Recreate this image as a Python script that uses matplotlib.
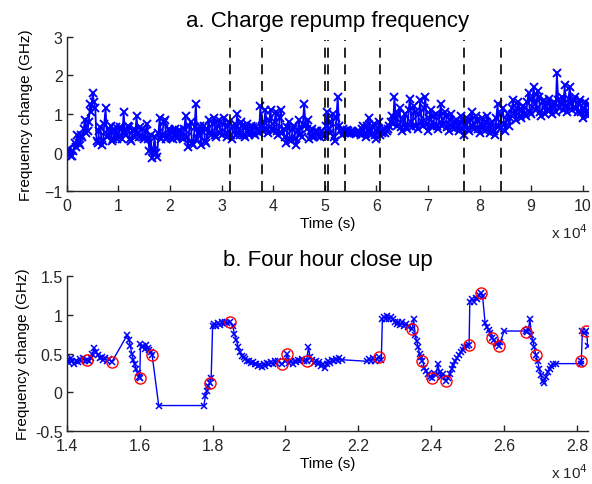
import matplotlib.pyplot as plt

plt.rcParams['font.family'] = ['Liberation Sans', 'DejaVu Sans']

# ---- panel a: whole run (time in units of 1e4 s, frequency change in GHz)
top_time = [
    0.00, 0.05, 0.10, 0.15, 0.20, 0.25, 0.30, 0.35, 0.40, 0.45,
    0.50, 0.55, 0.60, 0.65, 0.70, 0.75, 0.80, 0.85, 0.90, 0.95,
    1.00, 1.05, 1.10, 1.15, 1.20, 1.25, 1.30, 1.35, 1.40, 1.45,
    1.50, 1.55, 1.60, 1.65, 1.70, 1.75, 1.80, 1.85, 1.90, 1.95,
    2.00, 2.05, 2.10, 2.15, 2.20, 2.25, 2.30, 2.35, 2.40, 2.45,
    2.50, 2.55, 2.60, 2.65, 2.70, 2.75, 2.80, 2.85, 2.90, 2.95,
    3.00, 3.05, 3.10, 3.15, 3.20, 3.25, 3.30, 3.35, 3.40, 3.45,
    3.50, 3.55, 3.60, 3.65, 3.70, 3.75, 3.80, 3.85, 3.90, 3.95,
    4.00, 4.05, 4.10, 4.15, 4.20, 4.25, 4.30, 4.35, 4.40, 4.45,
    4.50, 4.55, 4.60, 4.65, 4.70, 4.75, 4.80, 4.85, 4.90, 4.95,
    5.00, 5.05, 5.10, 5.15, 5.20, 5.25, 5.30, 5.35, 5.40, 5.45,
    5.50, 5.55, 5.60, 5.65, 5.70, 5.75, 5.80, 5.85, 5.90, 5.95,
    6.00, 6.05, 6.10, 6.15, 6.20, 6.25, 6.30, 6.35, 6.40, 6.45,
    6.50, 6.55, 6.60, 6.65, 6.70, 6.75, 6.80, 6.85, 6.90, 6.95,
    7.00, 7.05, 7.10, 7.15, 7.20, 7.25, 7.30, 7.35, 7.40, 7.45,
    7.50, 7.55, 7.60, 7.65, 7.70, 7.75, 7.80, 7.85, 7.90, 7.95,
    8.00, 8.05, 8.10, 8.15, 8.20, 8.25, 8.30, 8.35, 8.40, 8.45,
    8.50, 8.55, 8.60, 8.65, 8.70, 8.75, 8.80, 8.85, 8.90, 8.95,
    9.00, 9.05, 9.10, 9.15, 9.20, 9.25, 9.30, 9.35, 9.40, 9.45,
    9.50, 9.55, 9.60, 9.65, 9.70, 9.75, 9.80, 9.85, 9.90, 9.95,
    10.00, 10.05, 10.10, 10.15,
]
top_freq = [
    -0.05, 0.08, -0.08, 0.25, 0.45, 0.20, 0.40, 0.85, 0.55, 1.25,
    1.55, 1.15, 0.25, 0.65, 0.30, 1.15, 0.45, 0.70, 0.35, 0.65,
    0.40, 0.60, 1.05, 0.45, 0.65, 0.30, 0.60, 0.95, 0.40, 0.60,
    0.35, 0.75, 0.05, -0.15, 0.40, -0.12, 0.90, 0.45, 0.85, 0.40,
    0.55, 0.35, 0.60, 0.40, 0.55, 0.35, 0.95, 0.15, 0.80, 0.20,
    1.25, 0.50, 0.20, 0.70, 0.25, 0.85, 0.45, 0.90, 0.40, 0.85,
    0.45, 0.90, 0.40, 0.80, 0.35, 0.75, 1.00, 0.45, 0.70, 0.40,
    0.75, 0.50, 0.65, 0.45, 0.60, 1.20, 0.55, 1.10, 0.50, 1.10,
    0.55, 1.05, 0.45, 1.10, 0.60, 0.25, 0.80, 0.30, 0.70, 0.20,
    0.85, 0.40, 1.25, 0.60, 0.35, 0.60, 0.40, 0.55, 0.40, 0.55,
    0.45, 1.05, 0.50, 1.00, 0.30, 1.45, 0.55, 0.60, 0.50, 0.55,
    0.50, 0.52, 0.48, 0.55, 0.45, 0.70, 0.40, 0.90, 0.45, 0.75,
    0.35, 0.80, 0.50, 0.60, 0.55, 0.70, 0.95, 1.45, 0.70, 1.15,
    0.55, 1.00, 0.60, 1.40, 0.65, 1.05, 0.60, 1.35, 0.70, 1.45,
    0.55, 1.10, 0.65, 1.00, 0.60, 1.25, 0.75, 0.95, 0.55, 1.00,
    0.60, 0.85, 0.55, 0.95, 0.45, 0.90, 0.55, 1.05, 0.60, 0.85,
    0.50, 0.90, 0.55, 0.95, 0.50, 0.80, 0.45, 1.25, 0.60, 1.15,
    0.55, 1.00, 0.90, 1.35, 0.85, 1.30, 0.90, 1.20, 0.95, 1.55,
    1.00, 1.70, 1.10, 1.45, 0.95, 1.35, 1.10, 1.40, 1.00, 1.30,
    2.05, 1.15, 1.45, 1.75, 1.05, 1.70, 1.10, 1.45, 1.05, 1.35,
    0.90, 1.30, 0.95, 1.15,
]
# samples logged between the ones above
mid_time = [
    0.025, 0.075, 0.125, 0.175, 0.225, 0.275, 0.325, 0.375, 0.425, 0.475,
    0.525, 0.575, 0.625, 0.675, 0.725, 0.775, 0.825, 0.875, 0.925, 0.975,
    1.025, 1.075, 1.125, 1.175, 1.225, 1.275, 1.325, 1.375, 1.425, 1.475,
    1.525, 1.575, 1.625, 1.675, 1.725, 1.775, 1.825, 1.875, 1.925, 1.975,
    2.025, 2.075, 2.125, 2.175, 2.225, 2.275, 2.325, 2.375, 2.425, 2.475,
    2.525, 2.575, 2.625, 2.675, 2.725, 2.775, 2.825, 2.875, 2.925, 2.975,
    3.025, 3.075, 3.125, 3.175, 3.225, 3.275, 3.325, 3.375, 3.425, 3.475,
    3.525, 3.575, 3.625, 3.675, 3.725, 3.775, 3.825, 3.875, 3.925, 3.975,
    4.025, 4.075, 4.125, 4.175, 4.225, 4.275, 4.325, 4.375, 4.425, 4.475,
    4.525, 4.575, 4.625, 4.675, 4.725, 4.775, 4.825, 4.875, 4.925, 4.975,
    5.025, 5.075, 5.125, 5.175, 5.225, 5.275, 5.325, 5.375, 5.425, 5.475,
    5.525, 5.575, 5.625, 5.675, 5.725, 5.775, 5.825, 5.875, 5.925, 5.975,
    6.025, 6.075, 6.125, 6.175, 6.225, 6.275, 6.325, 6.375, 6.425, 6.475,
    6.525, 6.575, 6.625, 6.675, 6.725, 6.775, 6.825, 6.875, 6.925, 6.975,
    7.025, 7.075, 7.125, 7.175, 7.225, 7.275, 7.325, 7.375, 7.425, 7.475,
    7.525, 7.575, 7.625, 7.675, 7.725, 7.775, 7.825, 7.875, 7.925, 7.975,
    8.025, 8.075, 8.125, 8.175, 8.225, 8.275, 8.325, 8.375, 8.425, 8.475,
    8.525, 8.575, 8.625, 8.675, 8.725, 8.775, 8.825, 8.875, 8.925, 8.975,
    9.025, 9.075, 9.125, 9.175, 9.225, 9.275, 9.325, 9.375, 9.425, 9.475,
    9.525, 9.575, 9.625, 9.675, 9.725, 9.775, 9.825, 9.875, 9.925, 9.975,
    10.025, 10.075, 10.125, 10.175,
]
mid_freq = [
    0.10, -0.10, 0.05, 0.15, 0.25, 0.45, 0.60, 0.50, 0.80, 1.05,
    1.30, 0.30, 0.55, 0.20, 0.75, 0.40, 0.60, 0.30, 0.55, 0.35,
    0.65, 0.35, 0.50, 0.70, 0.35, 0.55, 0.40, 0.50, 0.65, 0.40,
    0.55, 0.35, 0.45, 0.05, 0.00, 0.50, 0.35, 0.80, 0.35, 0.60,
    0.38, 0.55, 0.38, 0.58, 0.40, 0.60, 0.40, 0.70, 0.25, 0.65,
    0.35, 0.70, 0.55, 0.30, 0.60, 0.50, 0.75, 0.45, 0.70, 0.50,
    0.75, 0.50, 0.70, 0.45, 0.65, 0.45, 0.50, 0.80, 0.45, 0.65,
    0.45, 0.70, 0.50, 0.65, 0.50, 0.70, 0.80, 0.60, 0.85, 0.60,
    0.80, 0.55, 0.90, 0.50, 0.40, 0.65, 0.35, 0.60, 0.35, 0.55,
    0.45, 0.75, 0.70, 0.85, 0.55, 0.40, 0.55, 0.42, 0.52, 0.42,
    0.70, 0.60, 0.80, 0.40, 0.90, 0.70, 0.45, 0.55, 0.58, 0.50,
    0.55, 0.50, 0.52, 0.50, 0.60, 0.50, 0.70, 0.55, 0.65, 0.45,
    0.60, 0.45, 0.55, 0.50, 0.60, 0.80, 0.75, 0.90, 1.00, 0.65,
    0.85, 0.65, 1.10, 0.80, 1.20, 0.70, 1.00, 0.80, 1.15, 0.75,
    0.90, 0.70, 0.95, 0.70, 0.95, 0.70, 1.05, 0.65, 0.85, 0.65,
    0.80, 0.65, 0.80, 0.60, 0.75, 0.60, 0.85, 0.70, 0.95, 0.60,
    0.75, 0.65, 0.80, 0.60, 0.75, 0.55, 0.90, 0.70, 1.00, 0.75,
    0.85, 0.70, 1.15, 1.00, 1.15, 0.95, 1.10, 1.00, 1.30, 1.05,
    1.40, 1.25, 1.60, 1.05, 1.30, 1.00, 1.25, 1.10, 1.20, 1.05,
    1.35, 1.30, 1.10, 1.20, 1.40, 1.25, 1.35, 1.15, 1.25, 1.05,
    1.15, 1.00, 1.25, 1.05,
]
# times of the dashed markers (1e4 s)
event_times = [3.16, 3.79, 5.00, 5.06, 5.40, 6.07, 7.70, 8.42]

# ---- panel b: four hour close up
zoom_time = [
    1.400, 1.405, 1.410, 1.415, 1.420, 1.425, 1.430, 1.435, 1.440, 1.445,
    1.450, 1.456, 1.460, 1.465, 1.470, 1.475, 1.480, 1.485, 1.490, 1.495,
    1.500, 1.505, 1.510, 1.515, 1.523, 1.566, 1.570, 1.574, 1.578, 1.582,
    1.586, 1.590, 1.594, 1.598, 1.600, 1.602, 1.606, 1.610, 1.614, 1.618,
    1.622, 1.626, 1.630, 1.634, 1.652, 1.776, 1.780, 1.784, 1.788, 1.792,
    1.796, 1.800, 1.805, 1.810, 1.815, 1.820, 1.825, 1.830, 1.835, 1.840,
    1.848, 1.855, 1.860, 1.865, 1.870, 1.875, 1.880, 1.885, 1.890, 1.895,
    1.900, 1.905, 1.910, 1.915, 1.920, 1.925, 1.930, 1.935, 1.940, 1.945,
    1.950, 1.955, 1.960, 1.965, 1.970, 1.975, 1.980, 1.990, 1.998, 2.005,
    2.010, 2.015, 2.020, 2.025, 2.030, 2.035, 2.040, 2.045, 2.050, 2.058,
    2.063, 2.068, 2.073, 2.078, 2.083, 2.088, 2.093, 2.098, 2.103, 2.108,
    2.113, 2.118, 2.123, 2.128, 2.133, 2.138, 2.143, 2.148, 2.155, 2.224,
    2.230, 2.235, 2.240, 2.245, 2.250, 2.258, 2.263, 2.266, 2.270, 2.275,
    2.280, 2.285, 2.290, 2.295, 2.300, 2.305, 2.310, 2.315, 2.320, 2.325,
    2.330, 2.335, 2.340, 2.347, 2.352, 2.356, 2.360, 2.364, 2.368, 2.372,
    2.376, 2.381, 2.386, 2.391, 2.396, 2.402, 2.408, 2.413, 2.418, 2.423,
    2.428, 2.433, 2.440, 2.446, 2.451, 2.456, 2.461, 2.466, 2.471, 2.476,
    2.481, 2.486, 2.491, 2.497, 2.504, 2.506, 2.512, 2.517, 2.522, 2.527,
    2.531, 2.536, 2.541, 2.548, 2.553, 2.558, 2.562, 2.567, 2.572, 2.577,
    2.581, 2.585, 2.590, 2.600, 2.660, 2.663, 2.667, 2.671, 2.675, 2.679,
    2.683, 2.687, 2.692, 2.697, 2.701, 2.706, 2.710, 2.715, 2.720, 2.725,
    2.730, 2.735, 2.742, 2.810, 2.812, 2.815, 2.820, 2.826, 2.830,
]
zoom_freq = [
    0.42, 0.38, 0.44, 0.40, 0.37, 0.40, 0.39, 0.43, 0.40, 0.44,
    0.41, 0.42, 0.40, 0.44, 0.50, 0.57, 0.52, 0.48, 0.44, 0.46,
    0.42, 0.44, 0.40, 0.43, 0.39, 0.74, 0.68, 0.60, 0.50, 0.42,
    0.36, 0.30, 0.25, 0.20, 0.18, 0.62, 0.58, 0.60, 0.56, 0.61,
    0.57, 0.55, 0.52, 0.48, -0.17, -0.17, -0.05, 0.02, 0.08, 0.12,
    0.18, 0.86, 0.88, 0.86, 0.89, 0.87, 0.90, 0.88, 0.91, 0.89,
    0.91, 0.86, 0.75, 0.68, 0.58, 0.52, 0.47, 0.45, 0.43, 0.41,
    0.40, 0.38, 0.39, 0.36, 0.37, 0.34, 0.35, 0.33, 0.36, 0.34,
    0.38, 0.36, 0.39, 0.37, 0.40, 0.38, 0.41, 0.36, 0.40, 0.49,
    0.38, 0.40, 0.37, 0.41, 0.39, 0.42, 0.40, 0.43, 0.41, 0.40,
    0.58, 0.45, 0.42, 0.38, 0.40, 0.36, 0.39, 0.34, 0.37, 0.32,
    0.36, 0.40, 0.38, 0.42, 0.40, 0.43, 0.41, 0.44, 0.42, 0.40,
    0.43, 0.40, 0.44, 0.41, 0.43, 0.45, 0.42, 0.95, 0.97, 0.94,
    0.98, 0.95, 0.97, 0.94, 0.90, 0.88, 0.91, 0.87, 0.90, 0.86,
    0.88, 0.84, 0.86, 0.81, 0.94, 0.74, 0.66, 0.58, 0.50, 0.45,
    0.41, 0.32, 0.28, 0.23, 0.20, 0.19, 0.25, 0.22, 0.36, 0.26,
    0.20, 0.24, 0.145, 0.18, 0.24, 0.30, 0.35, 0.40, 0.44, 0.48,
    0.52, 0.55, 0.58, 0.60, 0.61, 1.17, 1.20, 1.16, 1.22, 1.20,
    1.25, 1.28, 1.24, 0.89, 0.84, 0.80, 0.76, 0.70, 0.68, 0.64,
    0.62, 0.60, 0.65, 0.79, 0.79, 0.78, 0.82, 0.94, 0.74, 0.66,
    0.58, 0.48, 0.40, 0.30, 0.22, 0.14, 0.12, 0.20, 0.26, 0.30,
    0.34, 0.37, 0.37, 0.37, 0.40, 0.79, 0.77, 0.79, 0.60,
]
# highlighted samples (red circles)
circle_time = [1.456, 1.523, 1.600, 1.634, 1.792, 1.848, 1.990, 2.005, 2.058, 2.258, 2.347,
               2.376, 2.402, 2.440, 2.504, 2.536, 2.567, 2.585, 2.661, 2.687, 2.812, 2.826]
circle_freq = [0.42, 0.39, 0.18, 0.48, 0.12, 0.91, 0.36, 0.49, 0.40, 0.45, 0.81,
               0.41, 0.19, 0.145, 0.61, 1.28, 0.70, 0.60, 0.78, 0.48, 0.40, 0.79]

top_yticks = [-1, 0, 1, 2, 3]
top_xticks = [0, 1, 2, 3, 4, 5, 6, 7, 8, 9, 10]
zoom_yticks = [-0.5, 0, 0.5, 1, 1.5]
zoom_yticklabels = ['-0.5', '0', '0.5', '1', '1.5']
zoom_xticks = [1.4, 1.6, 1.8, 2.0, 2.2, 2.4, 2.6, 2.8]
zoom_xticklabels = ['1.4', '1.6', '1.8', '2', '2.2', '2.4', '2.6', '2.8']

BLUE = '#0000ff'
AXC = '#262626'


def style_axes(ax):
    for s in ['top', 'right']:
        ax.spines[s].set_visible(False)
    for s in ['left', 'bottom']:
        ax.spines[s].set_color(AXC)
        ax.spines[s].set_linewidth(1.0)
    ax.tick_params(direction='in', length=4, width=1.0, colors=AXC, labelsize=11.5, pad=5)
    ax.tick_params(axis='y', pad=3)


# merge the two logs of panel a in time order
top_pairs = sorted(zip(top_time + mid_time, top_freq + mid_freq))
all_time = [p[0] for p in top_pairs]
all_freq = [p[1] for p in top_pairs]

fig = plt.figure(figsize=(5.92, 4.85), dpi=100)

# panel a
ax1 = fig.add_axes([0.113, 0.604, 0.880, 0.318])
ax1.vlines(event_times, -1, 2.92, colors='black', linestyles=(0, (6, 4)), linewidth=1.2, zorder=3)
ax1.plot(all_time, all_freq, color=BLUE, marker='x', markersize=5.5, markeredgewidth=1.4,
         linewidth=1.3, zorder=2)
ax1.set_xlim(0, 10.1)
ax1.set_ylim(-1, 3)
ax1.set_xticks(top_xticks)
ax1.set_yticks(top_yticks)
style_axes(ax1)
ax1.set_xlabel('Time (s)', fontsize=11, labelpad=2)
ax1.set_ylabel('Frequency change (GHz)', fontsize=11, labelpad=8)
ax1.set_title('a. Charge repump frequency', fontsize=16, pad=8)
ax1.text(1.0, -0.2, 'x 10$^{4}$', transform=ax1.transAxes, ha='right', va='top', fontsize=11, color=AXC)

# panel b
ax2 = fig.add_axes([0.113, 0.109, 0.880, 0.320])
ax2.plot(zoom_time, zoom_freq, color=BLUE, marker='x', markersize=5, markeredgewidth=1.1,
         linewidth=1.0, zorder=2)
ax2.plot(circle_time, circle_freq, linestyle='none', marker='o', markersize=8,
         markerfacecolor='none', markeredgecolor='red', markeredgewidth=1.0, zorder=3)
ax2.set_xlim(1.4, 2.83)
ax2.set_ylim(-0.5, 1.5)
ax2.set_xticks(zoom_xticks)
ax2.set_xticklabels(zoom_xticklabels)
ax2.set_yticks(zoom_yticks)
ax2.set_yticklabels(zoom_yticklabels)
style_axes(ax2)
ax2.set_xlabel('Time (s)', fontsize=11, labelpad=2)
ax2.set_ylabel('Frequency change (GHz)', fontsize=11, labelpad=4)
ax2.set_title('b. Four hour close up', fontsize=16, pad=8)
ax2.text(1.0, -0.2, 'x 10$^{4}$', transform=ax2.transAxes, ha='right', va='top', fontsize=11, color=AXC)

fig.savefig('out.png', dpi=100)
